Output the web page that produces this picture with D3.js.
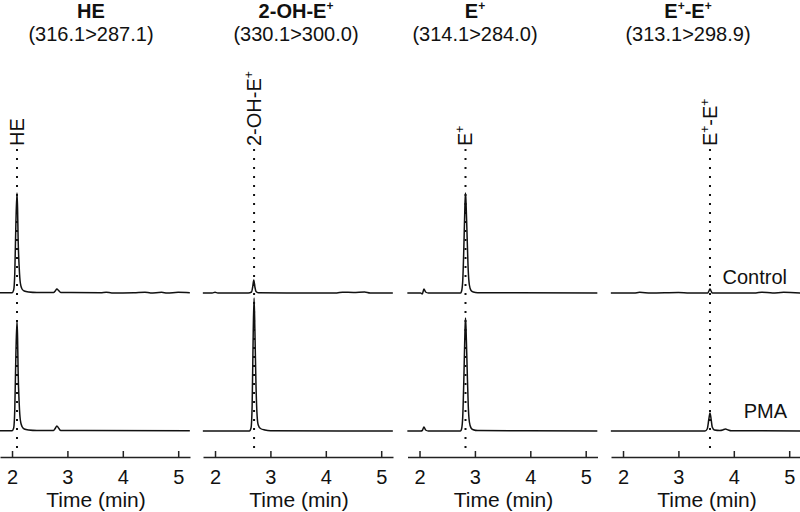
<!DOCTYPE html>
<html><head><meta charset="utf-8">
<script src="https://cdn.jsdelivr.net/npm/d3@7"></script>
<style>body{margin:0;background:#fff}svg{display:block;font-family:"Liberation Sans",Arial,sans-serif}</style>
</head><body><svg id="c" width="800" height="512"></svg>
<script>
// ---- data ----
const panelTitles = [[["HE"]],[["2-OH-E"],["+",1]],[["E"],["+",1]],[["E"],["+",1],["-E"],["+",1]]];
const panelTransitions = ["(316.1>287.1)","(330.1>300.0)","(314.1>284.0)","(313.1>298.9)"];
const peakLabels = panelTitles;
const retentionTimes = [2.09, 2.705, 2.83, 3.57];
const conditions = ["Control","PMA"];
const tickValues = [2,3,4,5];
const timeDomain = [1.783, 5.213];
const heControl = [[1.78,0.3],[2.00,0.3],[2.03,3],[2.05,20],[2.07,70],[2.09,100],[2.10,85],[2.11,55],[2.13,25],[2.15,10],[2.18,4],[2.22,2],[2.30,1],[2.45,0.5],[2.75,0.5],[2.78,2],[2.81,4],[2.84,2.5],[2.88,0.5],[3.6,0.3],[3.7,0.8],[3.8,0],[4.2,0.3],[4.4,0.8],[4.5,0],[4.7,0.7],[4.8,0],[5.0,0.7],[5.21,0.3]];
const hePMA = [[1.78,0.3],[2.00,0.3],[2.03,3],[2.05,22],[2.07,77],[2.09,110],[2.10,94],[2.11,60],[2.13,27],[2.15,11],[2.18,4.5],[2.22,2],[2.30,1],[2.45,0.5],[2.75,0.5],[2.78,2.5],[2.81,5],[2.84,3],[2.88,0.5],[5.21,0.3]];
const ohControl = [[1.78,0],[1.95,0],[2.0,0.7],[2.05,0],[2.60,0],[2.66,1],[2.68,6],[2.70,13],[2.72,6],[2.74,1.5],[2.78,0.3],[3.5,0],[4.2,0],[4.3,0.8],[4.5,0.5],[4.7,1],[4.8,0],[5.21,0]];
const ohPMA = [[1.78,0],[2.62,0],[2.65,3],[2.67,25],[2.69,100],[2.705,133],[2.72,100],[2.74,45],[2.76,15],[2.78,6],[2.82,2.5],[2.9,1],[3.0,0.3],[5.21,0]];
const eControl = [[1.78,0],[2.02,0],[2.05,-1],[2.08,4],[2.11,1],[2.16,0],[2.74,0],[2.76,2],[2.78,12],[2.80,45],[2.82,88],[2.83,100],[2.84,90],[2.86,55],[2.88,22],[2.90,8],[2.93,2.5],[2.97,1],[3.05,0.3],[5.21,0]];
const ePMA = [[1.78,0],[2.02,0],[2.05,0.5],[2.08,4],[2.11,1],[2.16,0],[2.74,0],[2.76,2.3],[2.78,14],[2.80,51],[2.82,99],[2.83,113],[2.84,102],[2.86,62],[2.88,25],[2.90,9],[2.93,3],[2.97,1.2],[3.05,0.4],[5.21,0]];
const eeControl = [[1.78,0],[2.2,0],[2.3,0.7],[2.5,0],[3.0,0.5],[3.2,0],[3.53,0],[3.555,2.5],[3.57,4],[3.585,2.5],[3.61,0],[4.4,0],[4.5,0.8],[4.7,0],[4.9,0.7],[5.21,0]];
const eePMA = [[1.78,0],[3.48,0],[3.52,2],[3.55,12],[3.57,18],[3.59,12],[3.61,4],[3.65,1],[3.75,0.5],[3.80,1],[3.85,2],[3.90,1],[3.95,0.3],[5.21,0]];
const traces = [[heControl,hePMA],[ohControl,ohPMA],[eControl,ePMA],[eeControl,eePMA]];

// ---- layout ----
const svg = d3.select("#c");
const panelX0 = [0,203,407.5,611];
const panelW = 190;
const titleX = [91,296,475,688];
const baselines = [293,431];
const axisY = 457;

function rich(sel, parts, supSize){
  let raised = false;
  parts.forEach(p=>{
    const ts = sel.append("tspan").text(p[0]);
    if(p[1]){ ts.attr("font-size",supSize).attr("dy", raised? 0 : -8); raised = true; }
    else if(raised){ ts.attr("dy", 8); raised = false; }
  });
}

panelTitles.forEach((tp,i)=>{
  const x = d3.scaleLinear().domain(timeDomain).range([panelX0[i], panelX0[i]+panelW]);
  const g = svg.append("g");
  // titles
  const t = g.append("text").attr("x",titleX[i]).attr("y",18).attr("text-anchor","middle")
    .attr("font-size",20).attr("font-weight","bold").attr("fill","#111");
  rich(t, tp, 12);
  g.append("text").attr("x",titleX[i]).attr("y",41).attr("text-anchor","middle")
    .attr("font-size",20).attr("fill","#111").text(panelTransitions[i]);
  // dotted line
  const rx = x(retentionTimes[i]);
  g.append("line").attr("x1",rx).attr("x2",rx).attr("y1",149).attr("y2",450)
    .attr("stroke","#111").attr("stroke-width",2).attr("stroke-dasharray","2 7");
  // peak label
  const lbl = g.append("text").attr("transform",`translate(${rx+7},146) rotate(-90)`)
    .attr("font-size",20).attr("fill","#111");
  rich(lbl, peakLabels[i], 12);
  // traces
  traces[i].forEach((tr,k)=>{
    const y = d3.scaleLinear().domain([0,100]).range([baselines[k], baselines[k]-100]);
    const line = d3.line().x(d=>x(d[0])).y(d=>y(d[1])).curve(d3.curveMonotoneX);
    g.append("path").attr("d",line(tr)).attr("fill","none").attr("stroke","#111").attr("stroke-width",1.5);
  });
  // axis
  const ax = g.append("g").attr("transform",`translate(0,${axisY})`)
    .call(d3.axisTop(x).tickValues(tickValues).tickSize(6).tickSizeOuter(0).tickFormat(d3.format("d")));
  ax.select(".domain").attr("stroke","#222").attr("stroke-width",1.5);
  ax.selectAll(".tick line").attr("stroke","#222").attr("stroke-width",1.5);
  ax.selectAll(".tick text").attr("y",27).attr("dy",0).attr("font-size",20).attr("fill","#111")
    .attr("font-family","Liberation Sans, Arial, sans-serif");
  g.append("text").attr("x",panelX0[i]+96).attr("y",507).attr("text-anchor","middle")
    .attr("font-size",21).attr("fill","#111").text("Time (min)");
});
// condition labels
svg.append("text").attr("x",787).attr("y",284).attr("text-anchor","end").attr("font-size",20).attr("fill","#111").text(conditions[0]);
svg.append("text").attr("x",787).attr("y",418).attr("text-anchor","end").attr("font-size",20).attr("fill","#111").text(conditions[1]);
</script></body></html>
